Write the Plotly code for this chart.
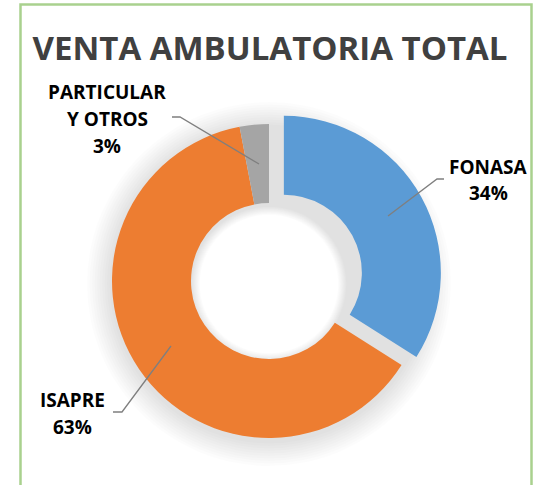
import plotly.graph_objects as go

categories = ["FONASA", "ISAPRE", "PARTICULAR Y OTROS"]
values = [34, 63, 3]
colors = ["#5B9BD5", "#ED7D31", "#A5A5A5"]
pulls = [0.108, 0, 0]
label_lines = [["FONASA", "34%"], ["ISAPRE", "63%"], ["PARTICULAR", "Y OTROS", "3%"]]
title_text = "VENTA AMBULATORIA TOTAL"

W, H = 538, 485

def px(x):
    return x / W

def py(y):
    return 1 - y / H

# pie geometry in pixels
cx, cy, r, r_in = 269, 281, 157, 78
half = r * (1 + max(pulls))

fig = go.Figure()

# soft drop shadow (stacked translucent rings behind the donut)
N = 10
for k in range(1, N + 1):
    ro = r + k * 2.5
    ri = r_in - k * 0.9
    scy = cy + 3
    fig.add_trace(go.Pie(
        values=[sum(values)], sort=False, hole=ri / ro,
        marker=dict(colors=["rgba(0,0,0,0.011)"], line=dict(width=0)),
        textinfo="none", hoverinfo="skip", showlegend=False,
        domain=dict(x=[px(cx - ro), px(cx + ro)], y=[py(scy + ro), py(scy - ro)]),
    ))

fig.add_trace(go.Pie(
    labels=categories, values=values, sort=False, direction="clockwise",
    rotation=0, hole=r_in / r, pull=pulls,
    marker=dict(colors=colors, line=dict(width=0)),
    textinfo="none", hoverinfo="label+percent", showlegend=False,
    domain=dict(x=[px(cx - half), px(cx + half)], y=[py(cy + half), py(cy - half)]),
))

# label annotations (center x, y of each text line, pixels)
label_line_pos = [
    (488, [167, 193]),
    (72, [400, 427]),
    (107, [92, 119, 146]),
]
for lines, (x, ys) in zip(label_lines, label_line_pos):
    for t, y in zip(lines, ys):
        fig.add_annotation(x=px(x), y=py(y), xref="paper", yref="paper",
                           text=f"<b>{t}</b>", showarrow=False,
                           xanchor="center", yanchor="middle",
                           font=dict(family="Open Sans", size=19, color="#000000"))

leaders = [
    [(444, 179), (437, 179), (388, 216)],
    [(113, 412), (122, 412), (171, 346)],
    [(172, 117), (180, 117), (259, 164)],
]
for pts in leaders:
    path = "M " + " L ".join(f"{px(x)},{py(y)}" for x, y in pts)
    fig.add_shape(type="path", path=path, xref="paper", yref="paper",
                  line=dict(color="#7F7F7F", width=1.3))

# green frame
fig.add_shape(type="rect", xref="paper", yref="paper", x0=px(20.5), x1=px(531.5),
              y0=py(520), y1=py(4.5), line=dict(color="#A9D18E", width=2.5))

fig.update_layout(
    width=W, height=H, margin=dict(l=0, r=0, t=0, b=0),
    paper_bgcolor="white", plot_bgcolor="white",
    title=dict(text=f"<b>{title_text}</b>", x=px(270), xanchor="center",
               y=py(48), yanchor="middle",
               font=dict(family="Open Sans", size=33, color="#404040")),
)

fig.write_html("out.html", config={"displayModeBar": False},
               post_script="document.body.style.margin='0';")
